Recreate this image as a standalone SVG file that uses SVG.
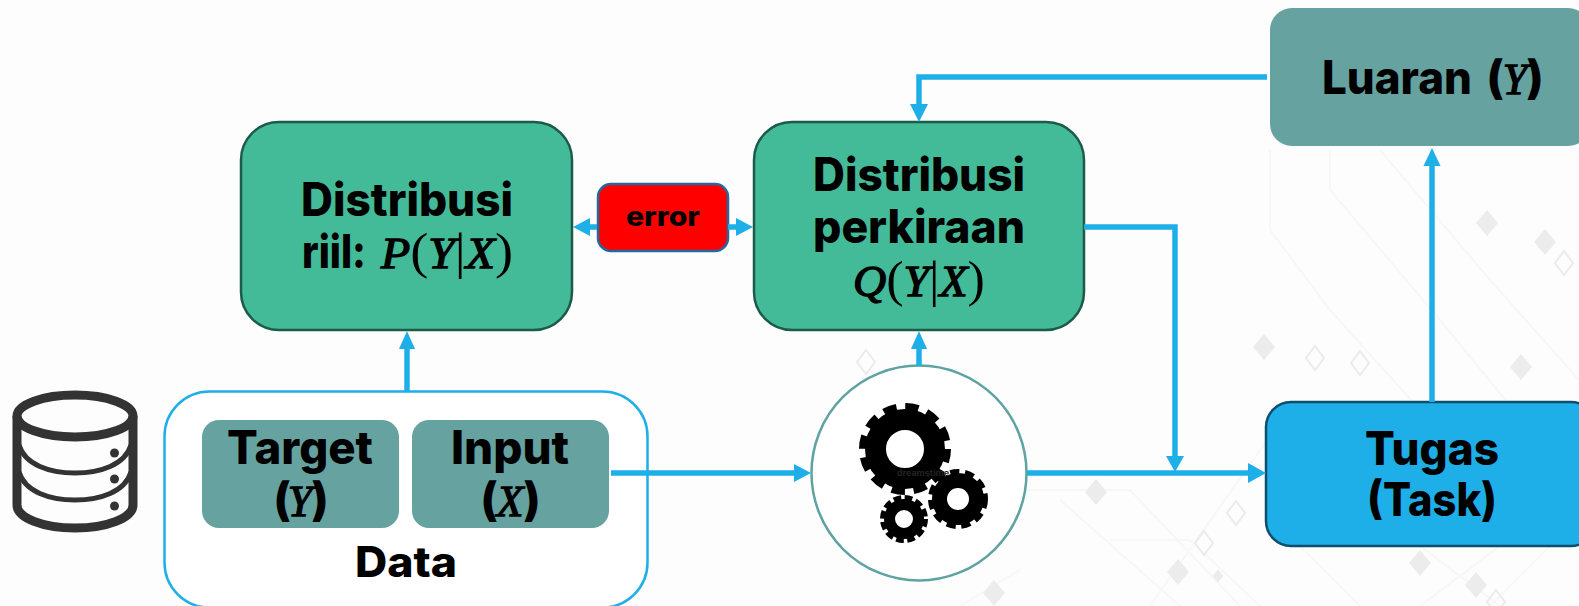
<svg xmlns="http://www.w3.org/2000/svg" width="1579" height="606" viewBox="0 0 1579 606">
<style>
.t{font-family:"Inter","Liberation Sans",sans-serif;font-weight:800;fill:#000;text-anchor:middle}
.s{font-size:46px}
.m{font-family:"Liberation Serif","DejaVu Serif",serif;font-style:italic;font-weight:400;fill:#000;stroke:#000;stroke-width:1.3}
.u{font-family:"Liberation Serif","DejaVu Serif",serif;font-weight:400;font-size:50px;fill:#000}
.c{fill:none;stroke:#1eaee8;stroke-width:5.5}
.h{fill:#1eaee8}
.g{fill:#44bb98;stroke:#1c5a4a;stroke-width:2.5}
.l{fill:#65a2a0}
.df{fill:#ececec}
.dh{fill:none;stroke:#ebebeb;stroke-width:2}
.bg{fill:none;stroke:#f7f7f7;stroke-width:2}
</style>
<defs>
<path id="df" d="M0-13L11 0L0 13L-11 0Z"/>
<path id="dh" d="M0-12L9 0L0 12L-9 0Z"/>
</defs>
<rect width="1579" height="606" fill="#fdfdfd"/>
<g id="background">
<path class="bg" d="M1270 150V230L1330 310L1420 410M1330 150V190L1440 320L1579 490M1380 150L1490 280L1579 380M1150 606L1260 450L1300 400M1020 490L1130 490L1240 606M1060 500L1180 606M1110 540H1190L1260 606M1020 570L960 606M1300 546L1360 606M1420 546L1500 606M1500 546L1420 606M1550 546L1490 606"/>
<use href="#df" class="df" x="1264" y="347"/><use href="#df" class="df" x="1521" y="367"/><use href="#df" class="df" x="1096" y="492"/><use href="#df" class="df" x="1178" y="572"/><use href="#df" class="df" x="1218" y="576" transform="translate(1218 576) scale(.5) translate(-1218 -576)"/><use href="#df" class="df" x="994" y="593"/><use href="#df" class="df" x="1420" y="563"/><use href="#df" class="df" x="1476" y="585"/><use href="#df" class="df" x="1487" y="223"/><use href="#df" class="df" x="1545" y="242"/>
<use href="#dh" class="dh" x="866" y="362"/><use href="#dh" class="dh" x="1315" y="358"/><use href="#dh" class="dh" x="1360" y="363"/><use href="#dh" class="dh" x="1236" y="513"/><use href="#dh" class="dh" x="1204" y="543"/><use href="#dh" class="dh" x="1496" y="602"/><use href="#dh" class="dh" x="1564" y="263"/>
</g>
<g id="db-icon" fill="none" stroke="#333" stroke-width="9">
<ellipse cx="75" cy="416" rx="58" ry="21"/>
<path d="M17 416V505C17 518 43 528 75 528C107 528 133 518 133 505V416"/>
<path stroke-width="5" d="M19 445C25 465 50 473 75 473C100 473 125 465 131 445M19 472C25 492 50 500 75 500C100 500 125 492 131 472"/>
<g fill="#333" stroke="none"><circle cx="114.500" cy="453" r="4.500"/><circle cx="114.500" cy="479" r="4.500"/><circle cx="114.500" cy="506" r="4.500"/></g>
</g>
<g id="node-riil">
<rect class="g" x="241" y="122" width="331" height="208" rx="38"/>
<text class="t s" x="407" y="216" textLength="212" lengthAdjust="spacingAndGlyphs">Distribusi</text>
<text class="t s" x="334" y="268" textLength="64" lengthAdjust="spacingAndGlyphs">riil:</text>
<text x="447" y="268" font-size="44" text-anchor="middle" textLength="132" lengthAdjust="spacingAndGlyphs"><tspan class="m">P</tspan><tspan class="u">(</tspan><tspan class="m">Y</tspan><tspan class="u">|</tspan><tspan class="m">X</tspan><tspan class="u">)</tspan></text>
</g>
<g id="node-error">
<rect x="598" y="184" width="130" height="67" rx="13" fill="#ff0000" stroke="#24689e" stroke-width="2.500"/>
<text class="t" x="663" y="226" font-size="27" textLength="74" lengthAdjust="spacingAndGlyphs">error</text>
</g>
<g id="node-perkiraan">
<rect class="g" x="754" y="122" width="330" height="208" rx="38"/>
<text class="t s" x="919" y="191" textLength="212" lengthAdjust="spacingAndGlyphs">Distribusi</text>
<text class="t s" x="919" y="243" textLength="212" lengthAdjust="spacingAndGlyphs">perkiraan</text>
<text x="919" y="296" font-size="44" text-anchor="middle" textLength="132" lengthAdjust="spacingAndGlyphs"><tspan class="m">Q</tspan><tspan class="u">(</tspan><tspan class="m">Y</tspan><tspan class="u">|</tspan><tspan class="m">X</tspan><tspan class="u">)</tspan></text>
</g>
<g id="node-luaran">
<rect class="l" x="1270" y="8" width="320" height="138" rx="22"/>
<text class="t s" x="1397" y="94" textLength="150" lengthAdjust="spacingAndGlyphs">Luaran</text>
<text class="t s" x="1495" y="94">(</text>
<text x="1515" y="94" font-size="44" text-anchor="middle" class="m">Y</text>
<text class="t s" x="1535" y="94">)</text>
</g>
<g id="node-tugas">
<rect x="1266" y="402" width="330" height="144" rx="25" fill="#1eaee8" stroke="#0e4f6e" stroke-width="2.500"/>
<text class="t s" x="1432" y="465" textLength="134" lengthAdjust="spacingAndGlyphs">Tugas</text>
<text class="t s" x="1432" y="516" textLength="130" lengthAdjust="spacingAndGlyphs">(Task)</text>
</g>
<g id="node-data">
<rect x="164.500" y="391.500" width="483" height="216" rx="45" fill="#fff" stroke="#1eaee8" stroke-width="2.500"/>
<rect class="l" x="202" y="420" width="197" height="108" rx="17"/>
<rect class="l" x="412" y="420" width="197" height="108" rx="17"/>
<text class="t s" x="300" y="464" textLength="146" lengthAdjust="spacingAndGlyphs">Target</text>
<text class="t s" x="510" y="464" textLength="118" lengthAdjust="spacingAndGlyphs">Input</text>
<text class="t s" x="282" y="516">(</text><text class="m" x="300" y="516" font-size="44" text-anchor="middle">Y</text><text class="t s" x="320" y="516">)</text>
<text class="t s" x="489" y="516">(</text><text class="m" x="510" y="516" font-size="44" text-anchor="middle">X</text><text class="t s" x="532" y="516">)</text>
<text class="t" x="406" y="577" font-size="42" textLength="102" lengthAdjust="spacingAndGlyphs">Data</text>
</g>
<g id="node-process">
<circle cx="919" cy="473" r="107.500" fill="#fff" stroke="#5fa3a1" stroke-width="2.500"/>
<g fill="none" stroke="#000">
<circle cx="905" cy="449" r="29.500" stroke-width="21"/>
<circle cx="905" cy="449" r="41" stroke-width="10" stroke-dasharray="13 8.460"/>
<circle cx="958" cy="499" r="18.500" stroke-width="15"/>
<circle cx="958" cy="499" r="26.500" stroke-width="7" stroke-dasharray="9 5.550"/>
<circle cx="904" cy="519" r="14.500" stroke-width="11"/>
<circle cx="904" cy="519" r="21" stroke-width="6" stroke-dasharray="7.500 3.500"/>
</g>
<text x="923" y="476" font-family="Inter, sans-serif" font-size="9" font-weight="700" text-anchor="middle" fill="#222">dreamstime</text>
</g>
<g id="connectors">
<path class="c" d="M407 391V345"/><path class="h" d="M407 331L415 349H399Z"/>
<path class="c" d="M611 473H796"/><path class="h" d="M811 473L794 464V482Z"/>
<path class="c" d="M919 366V345"/><path class="h" d="M919 331L927 349H911Z"/>
<path class="c" d="M1027 473H1252"/><path class="h" d="M1266 473L1248 463V483Z"/>
<path class="c" d="M1084 227H1175V458"/><path class="h" d="M1175 472L1166 456H1184Z"/>
<path class="c" d="M1432 402V160"/><path class="h" d="M1432 148L1423.500 166H1440.500Z"/>
<path class="c" d="M1267 77H919V108"/><path class="h" d="M919 122L910 104H928Z"/>
<path class="c" d="M597 227H585M728 227H742"/><path class="h" d="M573 227L590 218V236Z"/><path class="h" d="M753 227L736 218V236Z"/>
</g>
</svg>
